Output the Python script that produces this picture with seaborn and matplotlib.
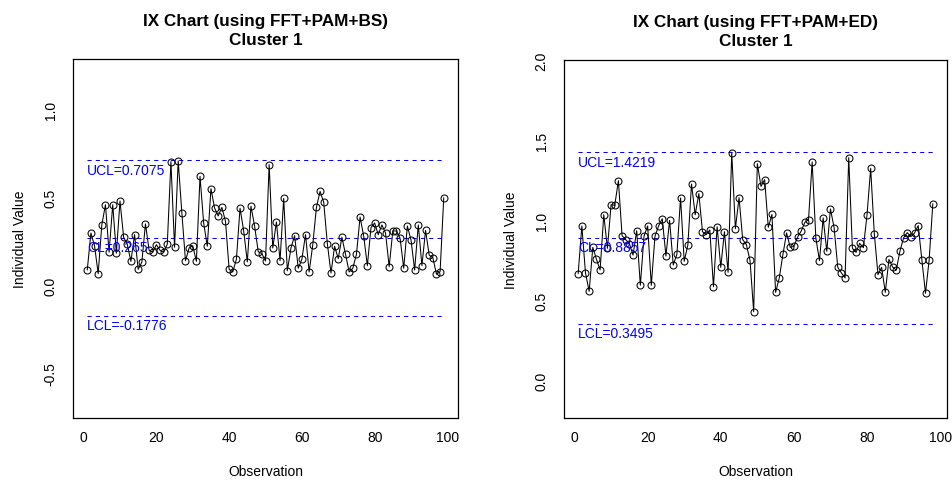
import numpy as np
import pandas as pd
import matplotlib
matplotlib.use("Agg")
import matplotlib.pyplot as plt
import seaborn as sns

# ---- data ----
bs_values = [0.085, 0.295, 0.223, 0.064, 0.341, 0.456, 0.186, 0.456, 0.180, 0.477,
             0.271, 0.231, 0.134, 0.286, 0.089, 0.129, 0.347, 0.197, 0.186, 0.229,
             0.197, 0.186, 0.231, 0.701, 0.214, 0.705, 0.411, 0.138, 0.210, 0.223,
             0.134, 0.617, 0.352, 0.220, 0.547, 0.437, 0.392, 0.441, 0.362, 0.089,
             0.074, 0.146, 0.436, 0.307, 0.131, 0.447, 0.335, 0.189, 0.178, 0.136,
             0.684, 0.210, 0.358, 0.138, 0.492, 0.081, 0.210, 0.280, 0.095, 0.146,
             0.286, 0.074, 0.229, 0.441, 0.532, 0.470, 0.235, 0.068, 0.220, 0.150,
             0.271, 0.174, 0.074, 0.095, 0.174, 0.386, 0.277, 0.110, 0.326, 0.352,
             0.286, 0.341, 0.295, 0.104, 0.307, 0.307, 0.265, 0.095, 0.335, 0.256,
             0.085, 0.341, 0.110, 0.310, 0.170, 0.155, 0.061, 0.076, 0.496]
ed_values = [0.665, 0.963, 0.669, 0.554, 0.829, 0.754, 0.688, 1.033, 0.823, 1.096,
             1.092, 1.246, 0.902, 0.877, 0.852, 0.781, 0.933, 0.592, 0.898, 0.963,
             0.592, 0.898, 0.963, 1.008, 0.775, 0.998, 0.719, 0.785, 1.138, 0.742,
             0.844, 1.225, 1.033, 1.165, 0.927, 0.908, 0.938, 0.583, 0.958, 0.704,
             0.927, 0.673, 1.419, 0.946, 1.140, 0.877, 0.846, 0.748, 0.427, 1.352,
             1.210, 1.252, 0.954, 1.035, 0.548, 0.638, 0.785, 0.919, 0.829, 0.835,
             0.892, 0.931, 0.985, 1.002, 1.363, 0.888, 0.746, 1.013, 0.804, 1.069,
             0.952, 0.704, 0.669, 0.638, 1.390, 0.823, 0.798, 0.854, 0.827, 1.031,
             1.323, 0.913, 0.658, 0.704, 0.548, 0.754, 0.706, 0.688, 0.804, 0.888,
             0.921, 0.896, 0.919, 0.965, 0.752, 0.542, 0.752, 1.102]

bs_limits = {"UCL": 0.7075, "CL": 0.265, "LCL": -0.1776}
ed_limits = {"UCL": 1.4219, "CL": 0.8857, "LCL": 0.3495}
bs_labels = ["UCL=0.7075", "CL=0.265", "LCL=-0.1776"]
ed_labels = ["UCL=1.4219", "CL=0.8857", "LCL=0.3495"]

titles = ["IX Chart (using FFT+PAM+BS)\nCluster 1", "IX Chart (using FFT+PAM+ED)\nCluster 1"]
bs_yticks = [-0.5, 0.0, 0.5, 1.0]
ed_yticks = [0.0, 0.5, 1.0, 1.5, 2.0]
xticks = [0, 20, 40, 60, 80, 100]

sns.set_style("white")
plt.rcParams["font.family"] = ["Liberation Sans", "DejaVu Sans"]
plt.rcParams["text.color"] = "black"
plt.rcParams["axes.labelcolor"] = "black"
plt.rcParams["xtick.color"] = "black"
plt.rcParams["ytick.color"] = "black"

W, H = 953, 489
fig = plt.figure(figsize=(W / 100, H / 100), dpi=100)


def px_axes(l, t, r, b):
    return fig.add_axes([l / W, (H - b) / H, (r - l) / W, (b - t) / H])


def draw(ax, values, limits, labels, title, yticks, ylim):
    n = len(values)
    df = pd.DataFrame({"Observation": np.arange(1, n + 1), "Value": values})
    xs = [1, n]
    for (key, val), lab in zip(limits.items(), labels):
        ax.plot(xs, [val, val], color="blue", lw=0.75, dashes=(4, 4), zorder=1)
        ax.annotate(lab, xy=(1, val), xytext=(0, -1.5), textcoords="offset points",
                    ha="left", va="top", color="blue", fontsize=10, zorder=3)
    sns.lineplot(data=df, x="Observation", y="Value", ax=ax, color="black",
                 lw=0.75, marker="o", markersize=5, markerfacecolor="none",
                 markeredgecolor="black", markeredgewidth=0.75, zorder=2)
    ax.set_xlim(1 - 0.04 * (n - 1), n + 0.04 * (n - 1))
    ax.set_ylim(*ylim)
    ax.set_xticks(xticks)
    ax.set_yticks(yticks)
    ax.set_yticklabels([f"{v:.1f}" for v in yticks], rotation=90, va="center")
    ax.tick_params(axis="both", direction="out", length=5, width=0.75,
                   labelsize=10, color="black", labelcolor="black", pad=4)
    ax.tick_params(axis="y", pad=6)
    for s in ax.spines.values():
        s.set_visible(True)
        s.set_color("black")
        s.set_linewidth(0.9)
    ax.set_xlabel("Observation", fontsize=10, labelpad=14, color="black")
    ax.set_ylabel("Individual Value", fontsize=10, labelpad=12, color="black")
    ax.set_title(title, fontsize=12.3, fontweight="bold", pad=11, linespacing=1.3,
                 color="black")


ax1 = px_axes(73, 60, 458, 419)
draw(ax1, bs_values, bs_limits, bs_labels, titles[0], bs_yticks, (-0.756, 1.284))
ax2 = px_axes(564, 61, 947, 419)
draw(ax2, ed_values, ed_limits, ed_labels, titles[1], ed_yticks, (-0.2375, 2.0))

fig.savefig("out.png", dpi=100, facecolor="white")
